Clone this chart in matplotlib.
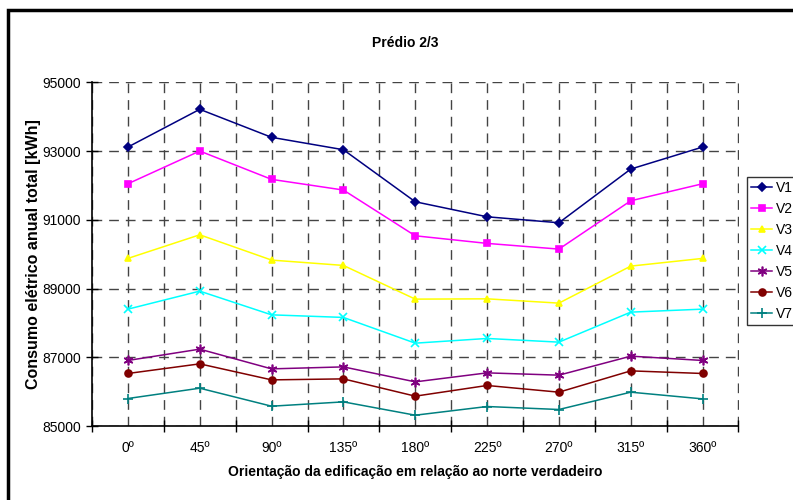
import numpy as np
import matplotlib.pyplot as plt
from matplotlib.patches import Rectangle

# orientation categories
orientations = ["0º", "45º", "90º", "135º", "180º", "225º", "270º", "315º", "360º"]

# annual consumption (kWh) per variant
v1 = [93116, 94214, 93399, 93038, 91524, 91087, 90913, 92476, 93116]
v2 = [92048, 93000, 92176, 91865, 90534, 90313, 90147, 91553, 92048]
v3 = [89876, 90563, 89827, 89672, 88691, 88700, 88575, 89652, 89876]
v4 = [88400, 88924, 88234, 88159, 87410, 87547, 87440, 88313, 88400]
v5 = [86907, 87236, 86662, 86720, 86284, 86546, 86479, 87032, 86907]
v6 = [86528, 86808, 86342, 86371, 85868, 86179, 85984, 86604, 86528]
v7 = [85800, 86100, 85576, 85702, 85314, 85567, 85480, 85984, 85789]

series_names = ["V1", "V2", "V3", "V4", "V5", "V6", "V7"]
series = [v1, v2, v3, v4, v5, v6, v7]
colors = ["#000080", "#FF00FF", "#FFFF00", "#00FFFF", "#800080", "#800000", "#008080"]
markers = ["D", "s", "^", "x", (6, 2, 0), "o", "+"]
msizes = [4, 5, 5, 6, 7, 5, 7]

plt.rcParams['font.family'] = ['Liberation Sans', 'DejaVu Sans']

fig = plt.figure(figsize=(7.93, 5.0), dpi=100)
W, H = 793, 500
ax = fig.add_axes([92 / W, 1 - 426 / H, (738.5 - 92) / W, (426 - 82.3) / H])

x = np.arange(len(orientations))
for name, vals, c, m, ms in zip(series_names, series, colors, markers, msizes):
    ax.plot(x, vals, color=c, marker=m, markersize=ms, linewidth=1.1,
            markeredgewidth=1.2, label=name, zorder=3)

ax.set_xlim(-0.5, len(orientations) - 0.5)
ax.set_ylim(85000, 95000)
ax.set_yticks(np.arange(85000, 95001, 2000))
ax.set_xticks(x)
ax.set_xticklabels(orientations)
ax.set_xticks(np.arange(-0.5, len(orientations), 1.0), minor=True)

ax.tick_params(axis='x', which='major', length=0, pad=11, labelsize=10)
ax.tick_params(axis='x', which='minor', direction='inout', length=8, width=1)
ax.tick_params(axis='y', which='major', direction='inout', length=8, width=1,
               labelsize=10, pad=4)

ax.grid(True, which='both', axis='x', linestyle=(0, (7, 5)), color='#444444', linewidth=1)
ax.grid(True, which='major', axis='y', linestyle=(0, (7, 5)), color='#444444', linewidth=1)
ax.set_axisbelow(True)

for s in ['top', 'right']:
    ax.spines[s].set_visible(False)
for s in ['left', 'bottom']:
    ax.spines[s].set_linewidth(1.2)

ax.set_xlabel("Orientação da edificação em relação ao norte verdadeiro",
              fontsize=10, fontweight='bold', labelpad=7)
ax.set_ylabel("Consumo elétrico anual total [kWh]", fontsize=11.5,
              fontweight='bold', labelpad=1)

fig.text(405 / W, 1 - 43 / H, "Prédio 2/3", ha='center', va='center',
         fontsize=10, fontweight='bold')

leg = fig.legend(loc='upper left', bbox_to_anchor=(747 / W, 1 - 177 / H),
                 frameon=True, fancybox=False, fontsize=10, handlelength=1.5,
                 labelspacing=0.5, borderpad=0.3, handletextpad=0.25,
                 borderaxespad=0)
leg.get_frame().set_edgecolor('black')
leg.get_frame().set_linewidth(1)

# outer chart border
fig.patches.append(Rectangle((8 / W, -0.1), 1.2, 1 - 10 / H + 0.1,
                             transform=fig.transFigure, fill=False,
                             edgecolor='black', linewidth=2.5))

fig.savefig("out.png", dpi=100)
